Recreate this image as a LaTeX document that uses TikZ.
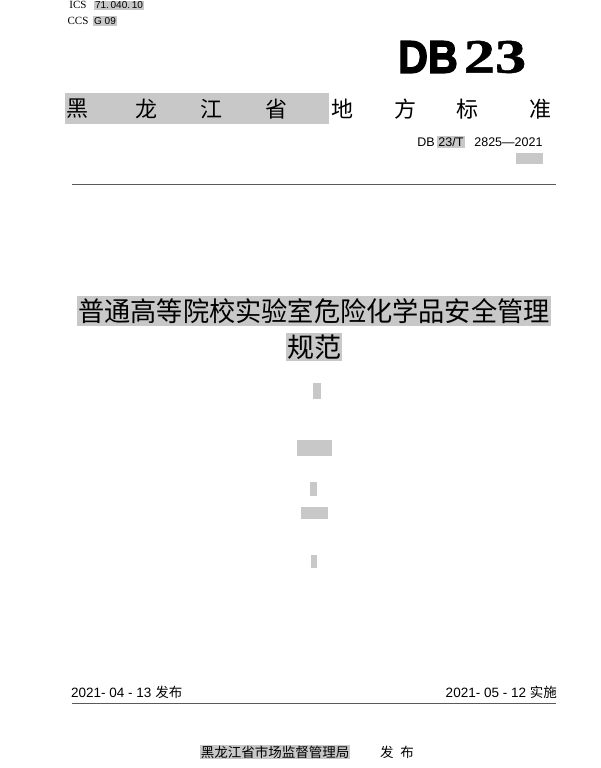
\documentclass[tikz,border=0pt]{standalone}
\usepackage{fontspec}
\setmainfont{Liberation Serif}
\setsansfont{Liberation Sans}
\newfontfamily\cjk{Noto Sans CJK SC}
\newfontfamily\dbfont[FakeBold=3]{Liberation Sans Bold}
\newfontfamily\numfont[FakeBold=1]{Liberation Serif Bold}
\definecolor{markgray}{RGB}{200,200,200}
\definecolor{rulegray}{RGB}{90,90,90}

\begin{document}
\begin{tikzpicture}[x=1pt,y=-1pt]
\useasboundingbox (0,0) rectangle (600,768);

% code lines
\node[font=\fontsize{11}{11}\selectfont] (ics) at (78,5) {ICS};
\node[fill=markgray, inner sep=1pt, font=\sffamily\fontsize{10}{10}\selectfont] (icsnum) at (119,5.5) {71.\,040.\,10};
\node[font=\fontsize{11}{11}\selectfont] (ccs) at (78,21) {CCS};
\node[fill=markgray, inner sep=1pt, font=\sffamily\fontsize{10}{10}\selectfont] (ccsnum) at (105,21) {G 09};

% standard mark
\node[font=\dbfont\fontsize{46}{46}\selectfont] (db) at (428,57) {\scalebox{0.9}[1]{DB}};
\node[font=\numfont\fontsize{48}{48}\selectfont] (num) at (495,57) {\scalebox{1.3}[1]{23}};

% province line
\fill[markgray] (65,93) rectangle (329,124);
\node[font=\cjk\fontsize{22}{22}\selectfont] (hei) at (77,109) {黑};
\node[font=\cjk\fontsize{22}{22}\selectfont] (long) at (146,109) {龙};
\node[font=\cjk\fontsize{22}{22}\selectfont] (jiang) at (211,109) {江};
\node[font=\cjk\fontsize{22}{22}\selectfont] (sheng) at (276,109) {省};
\node[font=\cjk\fontsize{22}{22}\selectfont] (di) at (342,109) {地};
\node[font=\cjk\fontsize{22}{22}\selectfont] (fang) at (405,109) {方};
\node[font=\cjk\fontsize{22}{22}\selectfont] (biao) at (467,109) {标};
\node[font=\cjk\fontsize{22}{22}\selectfont] (zhun) at (540,109) {准};

% standard number
\node[font=\sffamily\fontsize{12.5}{12.5}\selectfont] (dbcode) at (426,142) {DB};
\node[fill=markgray, inner sep=1pt, font=\sffamily\fontsize{12.5}{12.5}\selectfont] (dbtype) at (451,142) {23/T};
\node[anchor=east, font=\sffamily\fontsize{12.5}{12.5}\selectfont] (dbyear) at (546,142) {2825—2021};
\fill[markgray] (516,153) rectangle (543,164);

\draw[line width=1pt, rulegray] (72,184) -- (556,184);

% title
\node[fill=markgray, inner xsep=1pt, inner ysep=2pt, font=\cjk\fontsize{27}{28}\selectfont] (title) at (314,311) {\scalebox{0.97}[1]{普通高等院校实验室危险化学品安全管理}};
\node[fill=markgray, inner xsep=1pt, inner ysep=2pt, font=\cjk\fontsize{27}{28}\selectfont] (title2) at (314,347) {规范};

% placeholders
\fill[markgray] (313,383) rectangle (321,399);
\fill[markgray] (297,440) rectangle (332,456);
\fill[markgray] (310,482) rectangle (317,496);
\fill[markgray] (301,507) rectangle (328,519);
\fill[markgray] (311,555) rectangle (317,568);

% dates
\node[anchor=west, inner sep=0pt, font=\sffamily\fontsize{13.5}{13.5}\selectfont] (issue) at (71,692) {2021- 04 - 13 {\cjk 发布}};
\node[anchor=east, inner sep=0pt, font=\sffamily\fontsize{13.5}{13.5}\selectfont] (impl) at (557,692) {2021- 05 - 12 {\cjk 实施}};

\draw[line width=1pt, rulegray] (72,703) -- (556,703);

% issuer
\node[fill=markgray, inner sep=1pt, font=\cjk\fontsize{13.5}{14}\selectfont] (bureau) at (275,752) {黑龙江省市场监督管理局};
\node[font=\cjk\fontsize{13.5}{14}\selectfont] (publish) at (397,752) {发\hspace{0.5em}布};
\end{tikzpicture}
\end{document}
